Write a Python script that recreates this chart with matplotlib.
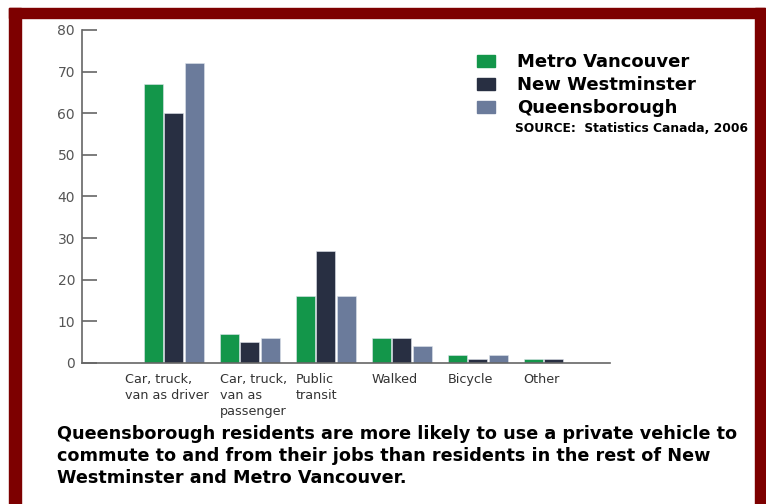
import matplotlib.pyplot as plt
import numpy as np
from matplotlib.patches import Rectangle, Patch

categories = ["Car, truck,\nvan as driver", "Car, truck,\nvan as\npassenger", "Public\ntransit",
              "Walked", "Bicycle", "Other"]
metro_vancouver = [67, 7, 16, 6, 2, 1]
new_westminster = [60, 5, 27, 6, 1, 1]
queensborough = [72, 6, 16, 4, 2, 0]

series_names = ["Metro Vancouver", "New Westminster", "Queensborough"]
colors = ["#13964a", "#282f42", "#6b7b9b"]

W, H = 766, 504
fig = plt.figure(figsize=(W / 100, H / 100), dpi=100)
fig.patch.set_facecolor("white")

# dark red frame
red = "#7d0000"
fig.patches.append(Rectangle((9 / W, 0), 12 / W, 1 - 8 / H, transform=fig.transFigure, color=red))
fig.patches.append(Rectangle((9 / W, 1 - 18 / H), (765 - 9) / W, 10 / H, transform=fig.transFigure, color=red))
fig.patches.append(Rectangle((755 / W, 0), 10 / W, 1 - 8 / H, transform=fig.transFigure, color=red))

ax = fig.add_axes([82 / W, 1 - 363 / H, (610 - 82) / W, (363 - 30) / H])

x = np.arange(len(categories))
bw = 0.25
off = 0.272
for i, (vals, c) in enumerate(zip([metro_vancouver, new_westminster, queensborough], colors)):
    ax.bar(x + (i - 1) * off, vals, bw, color=c, edgecolor="#dfe4ec", linewidth=0.4)

ax.set_xlim(-1.21, 5.74)
ax.set_ylim(0, 80)
ax.set_yticks(range(0, 81, 10))
for s in ["top", "right"]:
    ax.spines[s].set_visible(False)
for s in ["left", "bottom"]:
    ax.spines[s].set_color("#666666")
    ax.spines[s].set_linewidth(1.2)
ax.tick_params(axis="y", direction="in", length=11, width=1.2, color="#666666",
               labelcolor="#555555", labelsize=10, pad=5)

# labels start near the left edge of each group's first bar
nudge = np.array([-0.25, 0, 0, 0, 0, 0])
ax.set_xticks(x - off - bw / 2 + nudge)
ax.set_xticklabels(categories, fontsize=9.2, color="#333333", linespacing=1.3, ha="left")
ax.tick_params(axis="x", length=0, pad=7)

handles = [Patch(color=c) for c in colors]
fig.legend(handles, series_names, loc="upper left", bbox_to_anchor=(468 / W, 1 - 44 / H),
           frameon=False, prop={"weight": "bold", "size": 13}, handlelength=1.0,
           handleheight=0.65, labelspacing=0.28, handletextpad=1.2, borderpad=0)
fig.text(515 / W, 1 - 129 / H, "SOURCE:  Statistics Canada, 2006", fontsize=8.8,
         fontweight="bold", va="center", ha="left")

fig.text(57 / W, 1 - 425 / H,
         "Queensborough residents are more likely to use a private vehicle to\n"
         "commute to and from their jobs than residents in the rest of New\n"
         "Westminster and Metro Vancouver.",
         fontsize=12.7, fontweight="bold", va="top", ha="left", linespacing=1.28)

fig.savefig("out.png", dpi=100)
